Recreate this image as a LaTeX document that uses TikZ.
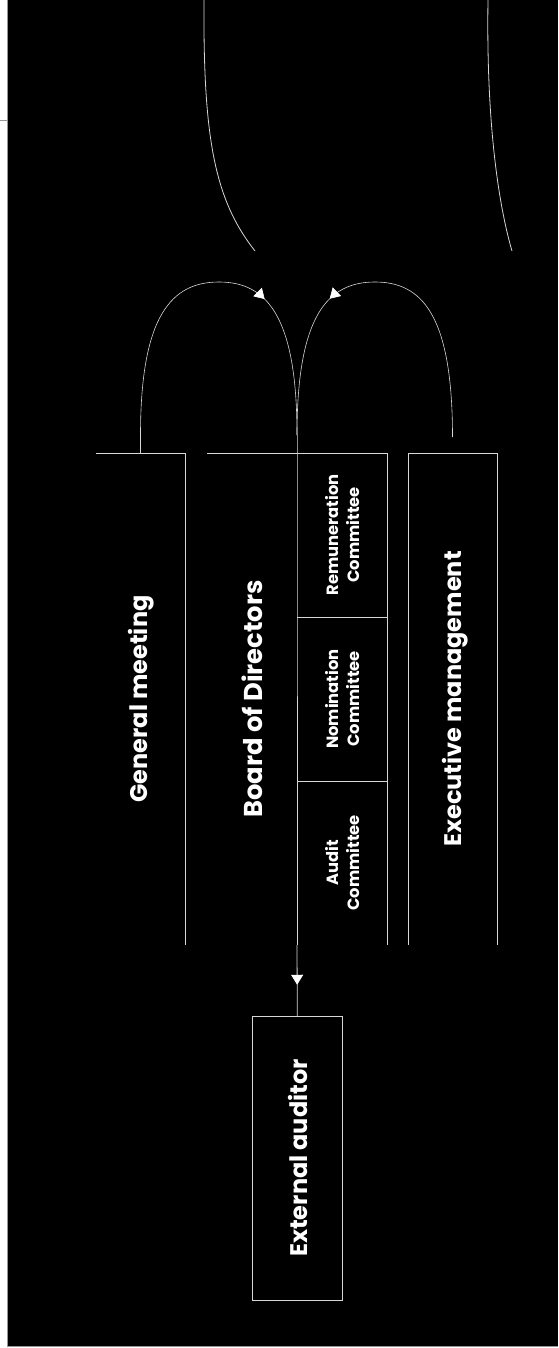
\documentclass[tikz,border=0pt]{standalone}
\usepackage{fontspec}
\setmainfont{Poppins}
\usetikzlibrary{arrows.meta,decorations.markings}
\definecolor{lineC}{RGB}{215,215,215}
\definecolor{frameC}{RGB}{150,150,150}
\begin{document}
\begin{tikzpicture}[x=1pt,y=-1pt,
  ln/.style={draw=lineC, line width=0.8pt},
  box/.style={draw=none, inner sep=0pt, outer sep=0pt},
  big/.style={text=white, font=\bfseries\fontsize{24}{28}\selectfont, rotate=90, inner sep=0pt},
  small/.style={text=white, font=\bfseries\fontsize{16.3}{21}\selectfont, rotate=90, align=center, inner sep=0pt},
  midarrow/.style={postaction={decorate}, decoration={markings, mark=at position #1 with {\arrow{Triangle[length=10pt,width=12pt,fill=white,color=white]}}}},
  ]
\useasboundingbox (0,0) rectangle (558,1348);
% background and frame
\fill[black] (7,0) rectangle (558,1346);
\draw[frameC, line width=0.8pt] (7,0) -- (7,1346) -- (558,1346);
\draw[frameC, line width=0.8pt] (0,120) -- (7,120);
% top curves
\draw[ln] (204,0) .. controls (203,140) and (215,200) .. (255,251);
\draw[ln] (488,0) .. controls (486,130) and (500,210) .. (512,251);
% boxes
\node[box, minimum width=89pt, minimum height=492pt] (gm) at (140.5,699) {};
\node[box, minimum width=180pt, minimum height=492pt] (bd) at (297,699) {};
\node[box, minimum width=90pt, minimum height=164pt] (rem) at (342,535) {};
\node[box, minimum width=90pt, minimum height=164pt] (nom) at (342,699) {};
\node[box, minimum width=90pt, minimum height=164pt] (aud) at (342,863) {};
\node[box, minimum width=89pt, minimum height=492pt] (ex) at (452.5,699) {};
\node[box, minimum width=90pt, minimum height=284pt] (ext) at (297.3,1158) {};
% texts
\node[big] (gmt) at (141.5,699) {General meeting};
\node[big, font=\bfseries\fontsize{25.8}{30}\selectfont] (bdt) at (252,699) {Board of Directors};
\node[big] (ext-t) at (455,699) {Executive management};
\node[big] (extt) at (297.5,1158) {External auditor};
\node[small] (remt) at (342.5,535) {Remuneration\\Committee};
\node[small] (nomt) at (342.5,699) {Nomination\\Committee};
\node[small] (audt) at (342.5,863) {Audit\\Committee};
% visible box edges
\draw[ln] (gm.north west) -- (gm.north east) -- (gm.south east);
\draw[ln] (bd.north west) -- (bd.north east) -- (bd.south east);
\draw[ln] (rem.south west) -- (rem.south east);
\draw[ln] (nom.south west) -- (nom.south east);
\draw[ln] (ex.south west) -- (ex.north west) -- (ex.north east) -- (ex.south east);
\draw[ln] (ext.north west) rectangle (ext.south east);
% connectors
\coordinate (gmtop) at (140.5,435);
\coordinate (bdtop) at (297,435);
\coordinate (extop) at (452.5,437);
\coordinate (pk1) at (219,282);
\coordinate (pk2) at (375,282);
\draw[ln] (gm.north) -- (gmtop);
\draw[ln] (bdtop) -- (rem.north west) -- (aud.south west);
\draw[ln, midarrow=0.56] (aud.south west) -- (ext.north);
\draw[ln, line width=0.6pt, midarrow=0.63] (gmtop) .. controls +(0,-120) and +(-47,0) .. (pk1) .. controls +(47,0) and +(0,-120) .. (bdtop);
\draw[ln, line width=0.6pt, midarrow=0.63] (extop) .. controls +(0,-122) and +(47,0) .. (pk2) .. controls +(-47,0) and +(0,-120) .. (bdtop);
\end{tikzpicture}
\end{document}
